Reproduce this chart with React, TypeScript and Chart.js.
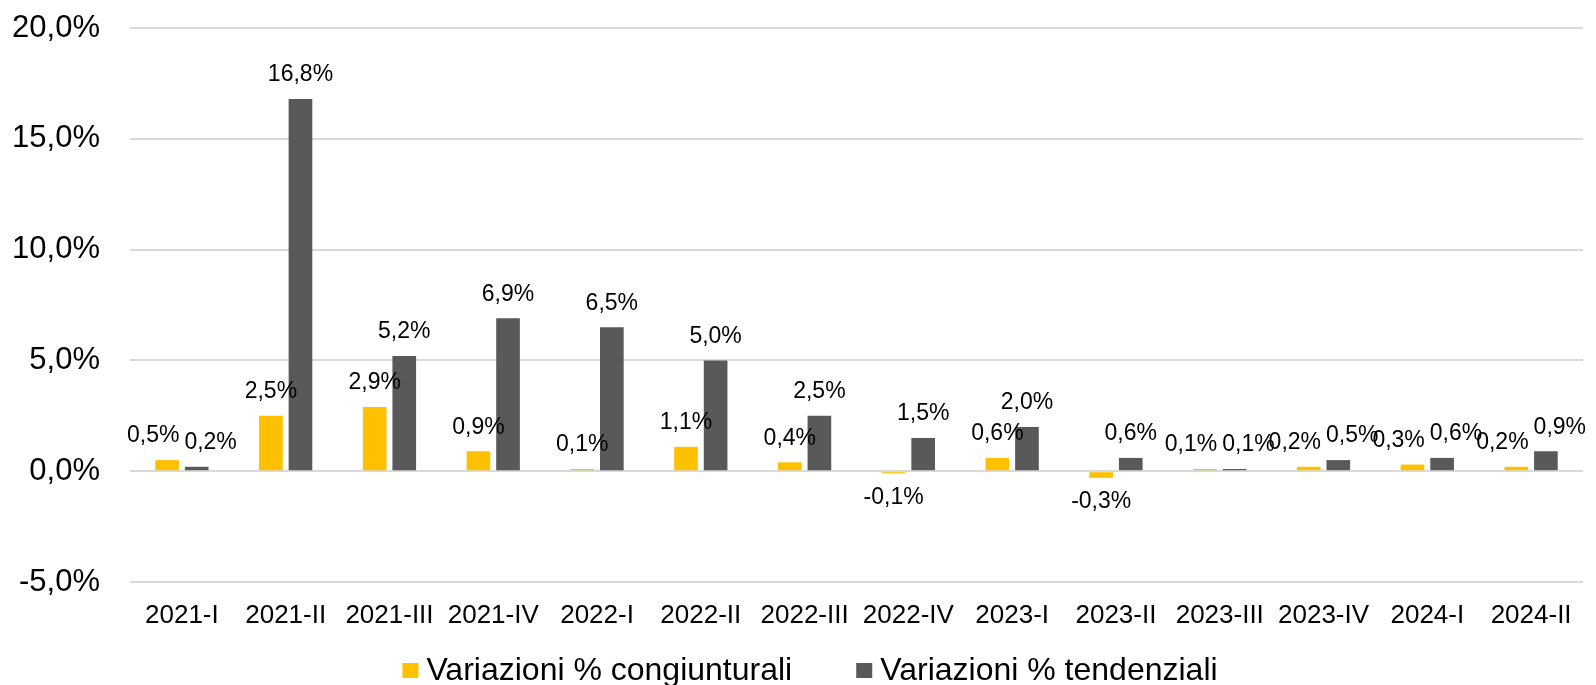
import { useEffect, useRef } from "react";
import { Chart, registerables } from "chart.js";

Chart.register(...registerables);

const FONT = "'Liberation Sans', Arial, sans-serif";

const categories = [
  "2021-I", "2021-II", "2021-III", "2021-IV",
  "2022-I", "2022-II", "2022-III", "2022-IV",
  "2023-I", "2023-II", "2023-III", "2023-IV",
  "2024-I", "2024-II",
];
const congiunturali = [0.5, 2.5, 2.9, 0.9, 0.1, 1.1, 0.4, -0.1, 0.6, -0.3, 0.1, 0.2, 0.3, 0.2];
const tendenziali = [0.2, 16.8, 5.2, 6.9, 6.5, 5.0, 2.5, 1.5, 2.0, 0.6, 0.1, 0.5, 0.6, 0.9];
const seriesNames = ["Variazioni % congiunturali", "Variazioni % tendenziali"];
const seriesColors = ["#FFC000", "#595959"];
const yMin = -5;
const yMax = 20;
const yStep = 5;

const fmt = (v: number) => v.toFixed(1).replace(".", ",") + "%";

// Data labels above/below bars, with a simple collision push between the two
// labels of the same category (like the spreadsheet original).
const barLabels = {
  id: "barLabels",
  afterDatasetsDraw(chart: any) {
    const ctx = chart.ctx;
    ctx.save();
    ctx.font = `23px ${FONT}`;
    ctx.fillStyle = "#000";
    ctx.textAlign = "center";
    ctx.textBaseline = "middle";
    const H = 23;
    const gap = 5;
    const nCat = chart.data.labels.length;
    for (let i = 0; i < nCat; i++) {
      const items: any[] = [];
      chart.data.datasets.forEach((ds: any, di: number) => {
        const bar = chart.getDatasetMeta(di).data[i];
        const v = ds.data[i] as number;
        const p = bar.getProps(["x", "y"], true);
        const text = fmt(v);
        const w = ctx.measureText(text).width;
        const y = v >= 0 ? p.y - 24 : p.y + 24;
        items.push({ text, w, x: p.x, y });
      });
      if (items.length === 2) {
        const [a, b] = items;
        const need = (a.w + b.w) / 2 + gap;
        const dist = b.x - a.x;
        if (Math.abs(a.y - b.y) < H && dist < need) {
          const push = (need - dist) / 2;
          a.x -= push;
          b.x += push;
        }
      }
      items.forEach((it) => {
        const maxX = chart.width - 3 - it.w / 2;
        ctx.fillText(it.text, Math.min(it.x, maxX), it.y);
      });
    }
    ctx.restore();
  },
};

const customLegend = {
  id: "customLegend",
  afterDraw(chart: any) {
    const ctx = chart.ctx;
    ctx.save();
    ctx.font = `32px ${FONT}`;
    ctx.textBaseline = "alphabetic";
    ctx.textAlign = "left";
    const box = 16;
    const textGap = 8;
    const itemGap = 64;
    const widths = chart.data.datasets.map((ds: any) => ctx.measureText(ds.label).width);
    let total = 0;
    widths.forEach((w: number, i: number) => {
      total += box + textGap + w + (i < widths.length - 1 ? itemGap : 0);
    });
    let x = chart.width / 2 + 12 - total / 2;
    const baseline = 680;
    chart.data.datasets.forEach((ds: any, i: number) => {
      ctx.fillStyle = ds.backgroundColor;
      ctx.fillRect(x, 663, box, box - 1);
      ctx.fillStyle = "#000";
      ctx.fillText(ds.label, x + box + textGap, baseline);
      x += box + textGap + widths[i] + itemGap;
    });
    ctx.restore();
  },
};

export default function App() {
  const ref = useRef<HTMLCanvasElement | null>(null);

  useEffect(() => {
    if (!ref.current) return;
    const chart = new Chart(ref.current, {
      type: "bar",
      data: {
        labels: categories,
        datasets: [
          {
            label: seriesNames[0],
            data: congiunturali,
            backgroundColor: seriesColors[0],
            barPercentage: 0.8,
            categoryPercentage: 0.57,
          },
          {
            label: seriesNames[1],
            data: tendenziali,
            backgroundColor: seriesColors[1],
            barPercentage: 0.8,
            categoryPercentage: 0.57,
          },
        ],
      },
      options: {
        responsive: false,
        animation: false,
        devicePixelRatio: 1,
        layout: { padding: { top: 28, right: 13, bottom: 0, left: 0 } },
        plugins: {
          legend: { display: false },
          tooltip: { enabled: false },
        },
        scales: {
          x: {
            grid: { display: false },
            border: { display: false },
            ticks: {
              font: { family: FONT, size: 26 },
              color: "#000",
              padding: 10,
              maxRotation: 0,
              autoSkip: false,
            },
            afterFit: (s: any) => {
              s.height = 103;
            },
          },
          y: {
            min: yMin,
            max: yMax,
            ticks: {
              stepSize: yStep,
              callback: (v: any) => fmt(Number(v)),
              font: { family: FONT, size: 31 },
              color: "#000",
              padding: 0,
            },
            grid: {
              color: "#D9D9D9",
              lineWidth: 2,
              drawTicks: true,
              tickLength: 30,
              tickColor: "rgba(0,0,0,0)",
            },
            border: { display: false },
            afterFit: (s: any) => {
              s.width = 130;
            },
          },
        },
      },
      plugins: [barLabels, customLegend],
    });
    return () => chart.destroy();
  }, []);

  return (
    <div style={{ position: "absolute", left: 0, top: 0, width: 1596, height: 685, background: "#fff" }}>
      <canvas ref={ref} width={1596} height={685} style={{ display: "block" }} />
    </div>
  );
}
